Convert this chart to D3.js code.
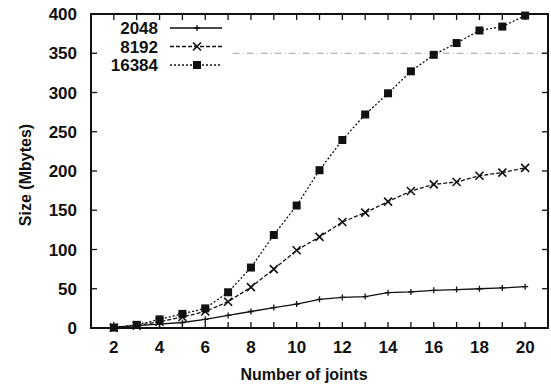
<!DOCTYPE html>
<html>
<head>
<meta charset="utf-8">
<script src="https://cdn.jsdelivr.net/npm/d3@7"></script>
<style>
  body { margin: 0; background: #fff; overflow: hidden; }
  svg { display: block; }
  text { font-family: "Liberation Sans", Arial, sans-serif; fill: #111; font-weight: bold; }
</style>
</head>
<body>
<div id="chart"></div>
<script>
// data
const joints = [2, 3, 4, 5, 6, 7, 8, 9, 10, 11, 12, 13, 14, 15, 16, 17, 18, 19, 20];
const size2048 = [1, 3, 5, 7, 11, 16, 21, 26, 30.5, 36.5, 39, 40, 45, 46, 48, 49, 50, 51, 52.6];
const size8192 = [0.5, 3, 8, 14, 21, 33.5, 52, 75, 99, 116, 135, 147, 161, 174.5, 183, 186, 194, 198, 204];
const size16384 = [0.5, 4, 11, 18, 25, 45.5, 77, 118.5, 156, 201, 239.5, 272, 299, 327, 348, 363, 379, 384, 398];
const seriesNames = ["2048", "8192", "16384"];
const yTicks = [0, 50, 100, 150, 200, 250, 300, 350, 400];
const xTicks = [2, 4, 6, 8, 10, 12, 14, 16, 18, 20];

const width = 551, height = 386;
const margin = { left: 91, right: 3, top: 14, bottom: 58 };

const svg = d3.select("#chart").append("svg")
  .attr("width", width)
  .attr("height", height);

const innerWidth = width - margin.left - margin.right;
const innerHeight = height - margin.top - margin.bottom;
const g = svg.append("g")
  .attr("transform", `translate(${margin.left},${margin.top})`);

//scale
const xScale = d3.scaleLinear().domain([1, 21]).range([0, innerWidth]);
const yScale = d3.scaleLinear().domain([0, 400]).range([innerHeight, 0]);

// faint scan line at 350
g.append("line")
  .attr("x1", xScale(7.2)).attr("x2", innerWidth)
  .attr("y1", yScale(350)).attr("y2", yScale(350))
  .attr("stroke", "#888").attr("stroke-width", 0.8)
  .attr("stroke-dasharray", "7,3,1,3");

//axis ticks, inward on all sides
const tickLen = 6;
const allX = d3.range(2, 21);
g.selectAll(".xt").data(allX).join("line")
  .attr("x1", d => xScale(d)).attr("x2", d => xScale(d))
  .attr("y1", innerHeight).attr("y2", innerHeight - tickLen)
  .attr("stroke", "#111").attr("stroke-width", 1.3);
g.selectAll(".xtt").data(allX).join("line")
  .attr("x1", d => xScale(d)).attr("x2", d => xScale(d))
  .attr("y1", 0).attr("y2", tickLen)
  .attr("stroke", "#111").attr("stroke-width", 1.3);
g.selectAll(".yt").data(yTicks).join("line")
  .attr("x1", 0).attr("x2", tickLen)
  .attr("y1", d => yScale(d)).attr("y2", d => yScale(d))
  .attr("stroke", "#111").attr("stroke-width", 1.3);
g.selectAll(".ytr").data(yTicks).join("line")
  .attr("x1", innerWidth).attr("x2", innerWidth - tickLen)
  .attr("y1", d => yScale(d)).attr("y2", d => yScale(d))
  .attr("stroke", "#111").attr("stroke-width", 1.3);

// border
g.append("rect")
  .attr("width", innerWidth).attr("height", innerHeight)
  .attr("fill", "none").attr("stroke", "#111").attr("stroke-width", 2);

// tick labels
g.selectAll(".xl").data(xTicks).join("text")
  .attr("x", d => xScale(d)).attr("y", innerHeight + 25)
  .attr("text-anchor", "middle")
  .style("font-size", "17px")
  .text(d => d);
g.selectAll(".yl").data(yTicks).join("text")
  .attr("x", -14).attr("y", d => yScale(d) + 6)
  .attr("text-anchor", "end")
  .style("font-size", "17px")
  .text(d => d);

//label
g.append("text")
  .attr("transform", `translate(${-60},${161}) rotate(270)`)
  .attr("text-anchor", "middle")
  .style("font-size", "16px")
  .text("Size (Mbytes)");
g.append("text")
  .attr("x", 213).attr("y", innerHeight + 52)
  .attr("text-anchor", "middle")
  .style("font-size", "16px")
  .text("Number of joints");

// series
const series = [
  { name: seriesNames[0], values: size2048, dash: null, marker: "plus" },
  { name: seriesNames[1], values: size8192, dash: "4,2", marker: "cross" },
  { name: seriesNames[2], values: size16384, dash: "2,2", marker: "square" },
];

const line = d3.line()
  .x((d, i) => xScale(joints[i]))
  .y(d => yScale(d));

function drawMarker(sel, type, x, y) {
  if (type === "plus") {
    sel.append("path").attr("d", `M${x - 3},${y}H${x + 3}M${x},${y - 3}V${y + 3}`)
      .attr("stroke", "#111").attr("stroke-width", 1.3);
  } else if (type === "cross") {
    sel.append("path").attr("d", `M${x - 4},${y - 4}L${x + 4},${y + 4}M${x - 4},${y + 4}L${x + 4},${y - 4}`)
      .attr("stroke", "#111").attr("stroke-width", 1.6);
  } else {
    sel.append("rect").attr("x", x - 4).attr("y", y - 4)
      .attr("width", 8).attr("height", 8).attr("fill", "#111");
  }
}

series.forEach(s => {
  g.append("path")
    .datum(s.values)
    .attr("d", line)
    .attr("fill", "none")
    .attr("stroke", "#111")
    .attr("stroke-width", 1.3)
    .attr("stroke-dasharray", s.dash);
  const mg = g.append("g");
  s.values.forEach((v, i) => drawMarker(mg, s.marker, xScale(joints[i]), yScale(v)));
});

// legend
const legend = g.append("g");
series.forEach((s, i) => {
  const y = 14 + i * 18.5;
  legend.append("text")
    .attr("x", 67).attr("y", y + 6)
    .attr("text-anchor", "end")
    .style("font-size", "17px")
    .text(s.name);
  legend.append("line")
    .attr("x1", 79).attr("x2", 131)
    .attr("y1", y).attr("y2", y)
    .attr("stroke", "#111").attr("stroke-width", 1.3)
    .attr("stroke-dasharray", s.dash);
  drawMarker(legend, s.marker, 106, y);
});
</script>
</body>
</html>
